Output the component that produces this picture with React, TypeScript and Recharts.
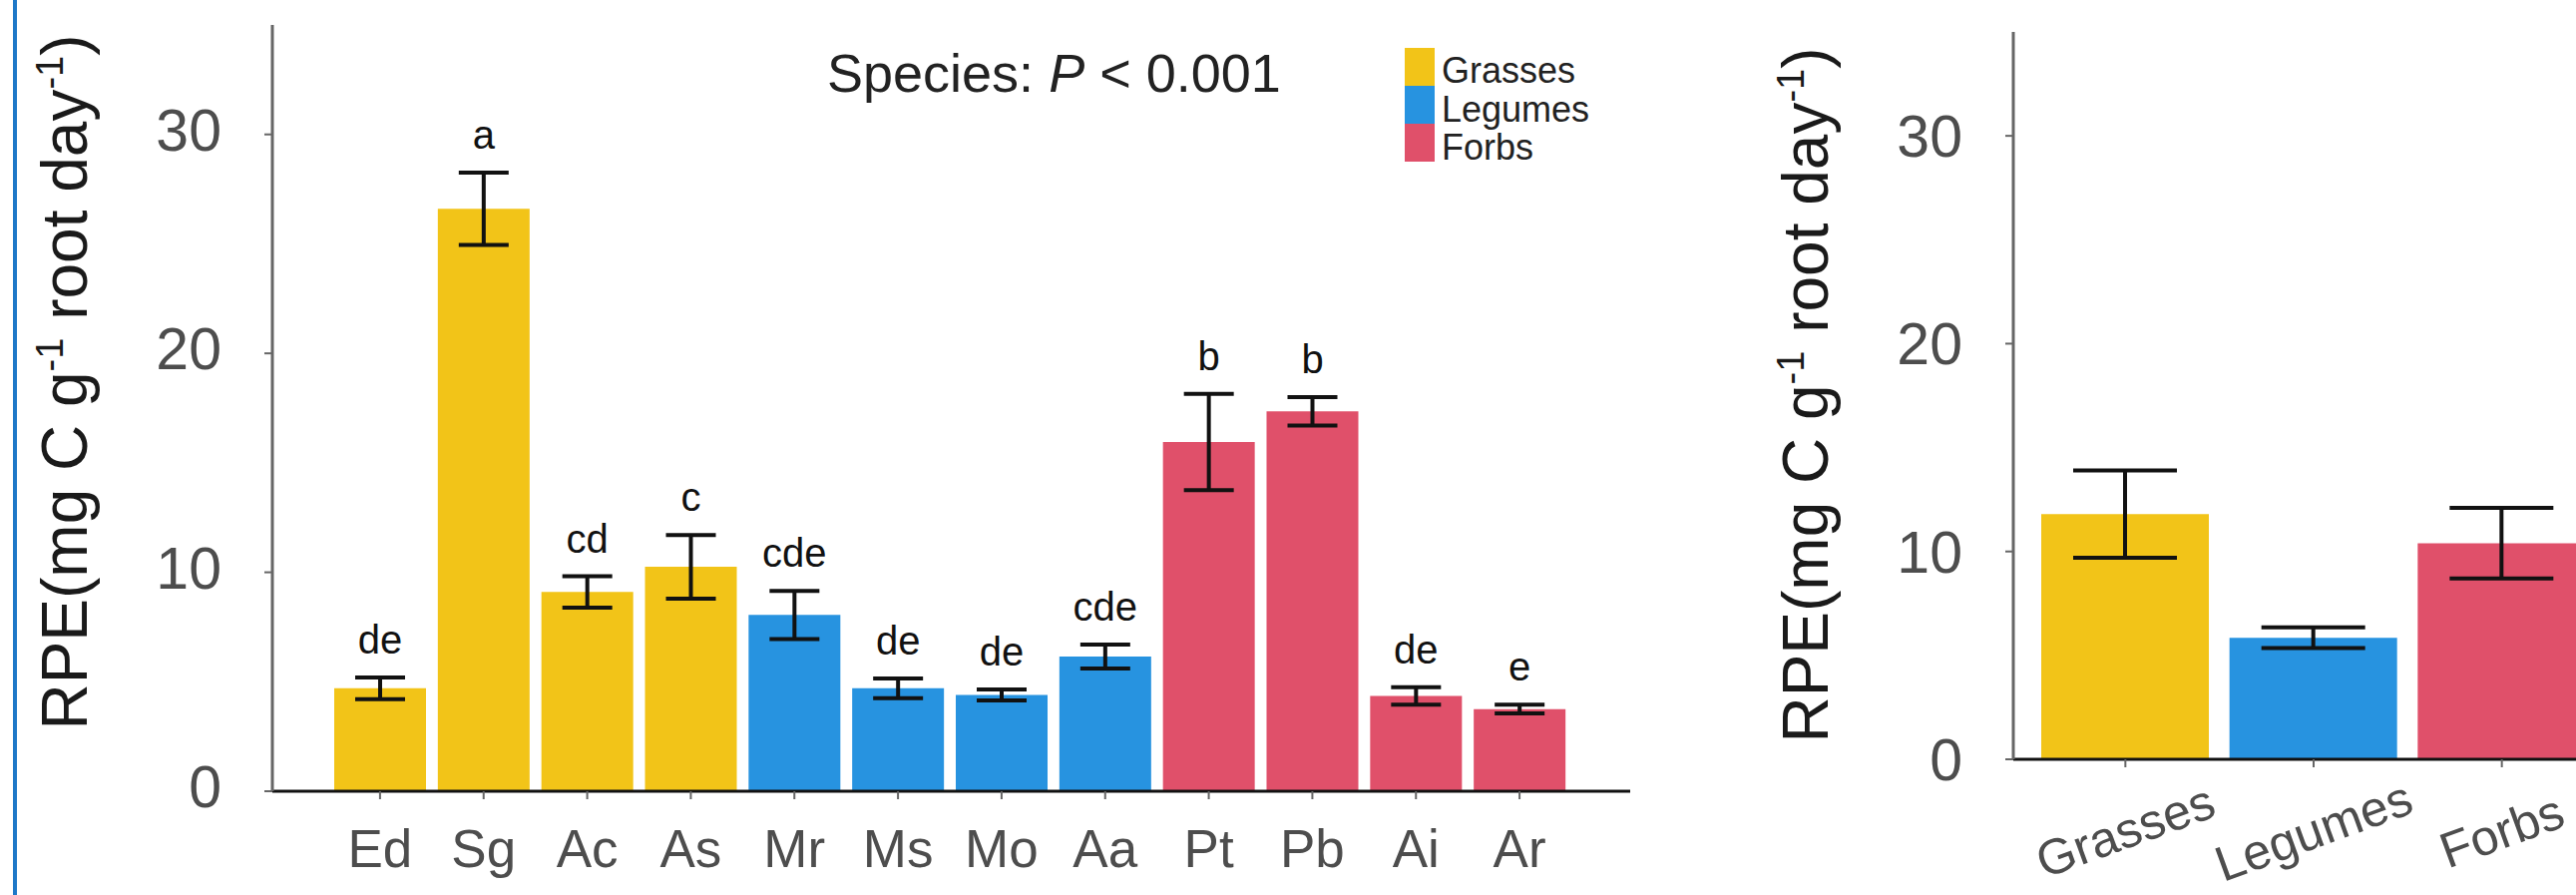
import React from "react";
import { BarChart, Bar, XAxis, YAxis, Cell, ErrorBar, LabelList } from "recharts";

const FONT = '"Liberation Sans", Arial, Helvetica, sans-serif';

// species panel
const species = ["Ed", "Sg", "Ac", "As", "Mr", "Ms", "Mo", "Aa", "Pt", "Pb", "Ai", "Ar"];
const speciesGroup = [
  "Grasses", "Grasses", "Grasses", "Grasses",
  "Legumes", "Legumes", "Legumes", "Legumes",
  "Forbs", "Forbs", "Forbs", "Forbs",
];
const speciesMean = [4.7, 26.6, 9.1, 10.25, 8.05, 4.7, 4.4, 6.15, 15.95, 17.35, 4.35, 3.75];
const speciesSe = [0.5, 1.65, 0.72, 1.45, 1.1, 0.45, 0.25, 0.55, 2.2, 0.65, 0.4, 0.2];
const speciesLetters = ["de", "a", "cd", "c", "cde", "de", "de", "cde", "b", "b", "de", "e"];

// functional group panel
const groups = ["Grasses", "Legumes", "Forbs"];
const groupMean = [11.8, 5.85, 10.4];
const groupSe = [2.1, 0.5, 1.7];

const yTicks = [0, 10, 20, 30];
const groupColors: Record<string, string> = {
  Grasses: "#F2C418",
  Legumes: "#2793E0",
  Forbs: "#E0506A",
};

const speciesData = species.map((name, i) => ({
  name,
  group: speciesGroup[i],
  mean: speciesMean[i],
  se: speciesSe[i],
  letter: speciesLetters[i],
}));

const groupData = groups.map((name, i) => ({ name, mean: groupMean[i], se: groupSe[i] }));

const tickGrey = "#4d4d4d";
const frameGrey = "#7a7a7a";

function YTickLabel(props: any) {
  const { x, y, payload, shift } = props;
  return (
    <text x={x - 41} y={y + shift} textAnchor="end" fontSize={59} fill={tickGrey} fontFamily={FONT}>
      {payload.value}
    </text>
  );
}

function SpeciesTick(props: any) {
  const { x, y, payload } = props;
  return (
    <text x={x} y={y + 66} textAnchor="middle" fontSize={53} fill={tickGrey} fontFamily={FONT}>
      {payload.value}
    </text>
  );
}

function GroupTick(props: any) {
  const { x, y, payload } = props;
  return (
    <text
      transform={`translate(${x},${y + 62}) rotate(-20)`}
      textAnchor="middle"
      dy={17}
      fontSize={50}
      fill={tickGrey}
      fontFamily={FONT}
    >
      {payload.value}
    </text>
  );
}

// letter sits above the top of the error bar
function renderLetter(props: any) {
  const { x, y, width, height, value, index } = props;
  const mean = speciesMean[index];
  const pxPerUnit = mean ? height / mean : 0;
  const errTop = y - speciesSe[index] * pxPerUnit;
  return (
    <text
      x={x + width / 2}
      y={errTop - 24}
      textAnchor="middle"
      fontSize={40}
      fill="#111"
      fontFamily={FONT}
    >
      {value}
    </text>
  );
}

function AxisTitle({ x, y }: { x: number; y: number }) {
  return (
    <text
      transform={`translate(${x},${y}) rotate(-90)`}
      textAnchor="middle"
      fontSize={64}
      fill="#1a1a1a"
      fontFamily={FONT}
    >
      RPE(mg C g
      <tspan fontSize={38} dy={-24}>-1</tspan>
      <tspan dy={24}> root day</tspan>
      <tspan fontSize={38} dy={-24}>-1</tspan>
      <tspan dy={24}>)</tspan>
    </text>
  );
}

export default function App() {
  return (
    <div
      style={{
        position: "absolute",
        left: 0,
        top: 0,
        width: 2582,
        height: 897,
        overflow: "hidden",
        background: "#fff",
      }}
    >
      <div style={{ position: "absolute", left: 13, top: 0, width: 4, height: 897, background: "#1E78C8" }} />

      <div style={{ position: "absolute", left: 0, top: 0 }}>
        <BarChart
          width={1700}
          height={897}
          data={speciesData}
          margin={{ top: 25, right: 66, bottom: 0, left: 0 }}
        >
          <XAxis
            dataKey="name"
            height={104}
            interval={0}
            padding={{ left: 56, right: 59 }}
            axisLine={{ stroke: "#111", strokeWidth: 3 }}
            tickLine={{ stroke: "#666", strokeWidth: 2 }}
            tickSize={8}
            tick={(p: any) => <SpeciesTick {...p} />}
          />
          <XAxis
            xAxisId="top"
            orientation="top"
            dataKey="name"
            height={0}
            tick={false}
            tickLine={false}
            axisLine={{ stroke: frameGrey, strokeWidth: 3 }}
          />
          <YAxis
            width={273}
            domain={[0, 35]}
            ticks={yTicks}
            axisLine={{ stroke: "#666", strokeWidth: 3 }}
            tickLine={{ stroke: "#666", strokeWidth: 2 }}
            tickSize={8}
            tick={(p: any) => <YTickLabel {...p} shift={16} />}
          />
          <YAxis
            yAxisId="frame"
            orientation="right"
            width={0}
            domain={[0, 35]}
            tick={false}
            tickLine={false}
            axisLine={{ stroke: frameGrey, strokeWidth: 3 }}
          />
          <Bar dataKey="mean" barSize={92} isAnimationActive={false}>
            {speciesData.map((d) => (
              <Cell key={d.name} fill={groupColors[d.group]} />
            ))}
            <ErrorBar dataKey="se" width={25} strokeWidth={4} stroke="#111" isAnimationActive={false} />
            <LabelList dataKey="letter" content={renderLetter} />
          </Bar>
        </BarChart>
      </div>

      <div style={{ position: "absolute", left: 1700, top: 0 }}>
        <BarChart
          width={960}
          height={897}
          data={groupData}
          margin={{ top: 32, right: 40, bottom: 0, left: 0 }}
        >
          <XAxis
            dataKey="name"
            height={136}
            interval={0}
            padding={{ left: 18, right: 18 }}
            axisLine={{ stroke: "#111", strokeWidth: 3 }}
            tickLine={{ stroke: "#666", strokeWidth: 2 }}
            tickSize={8}
            tick={(p: any) => <GroupTick {...p} />}
          />
          <XAxis
            xAxisId="top"
            orientation="top"
            dataKey="name"
            height={0}
            tick={false}
            tickLine={false}
            axisLine={{ stroke: frameGrey, strokeWidth: 3 }}
          />
          <YAxis
            width={318}
            domain={[0, 35]}
            ticks={yTicks}
            axisLine={{ stroke: "#666", strokeWidth: 3 }}
            tickLine={{ stroke: "#666", strokeWidth: 2 }}
            tickSize={8}
            tick={(p: any) => <YTickLabel {...p} shift={21} />}
          />
          <Bar dataKey="mean" barSize={168} isAnimationActive={false}>
            {groupData.map((d) => (
              <Cell key={d.name} fill={groupColors[d.name]} />
            ))}
            <ErrorBar dataKey="se" width={52} strokeWidth={4} stroke="#111" isAnimationActive={false} />
          </Bar>
        </BarChart>
      </div>

      <svg
        width={2582}
        height={897}
        style={{ position: "absolute", left: 0, top: 0, pointerEvents: "none" }}
      >
        <AxisTitle x={87} y={383} />
        <AxisTitle x={1832} y={396} />
        <text x={829} y={92} fontSize={54} fill="#222" fontFamily={FONT}>
          Species: <tspan fontStyle="italic">P</tspan> &lt; 0.001
        </text>
        {groups.map((g, i) => (
          <g key={g}>
            <rect x={1408} y={48 + i * 38} width={30} height={38} fill={groupColors[g]} />
            <text x={1445} y={83 + i * 38.5} fontSize={36} fill="#222" fontFamily={FONT}>
              {g}
            </text>
          </g>
        ))}
      </svg>
    </div>
  );
}
